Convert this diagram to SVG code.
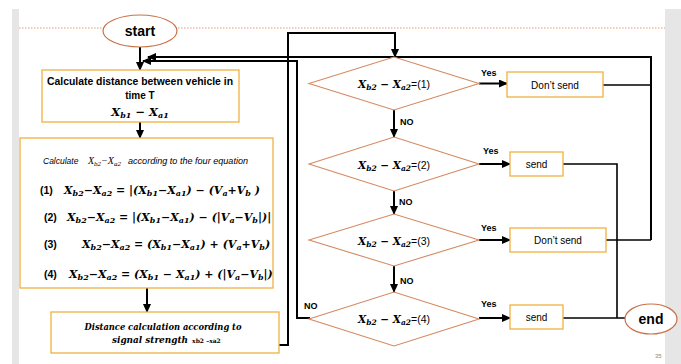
<svg xmlns="http://www.w3.org/2000/svg" width="681" height="364" viewBox="0 0 681 364">
<defs>
<marker id="ah" markerUnits="userSpaceOnUse" markerWidth="9" markerHeight="8" refX="8" refY="4" orient="auto">
<path d="M0,0 L9,4 L0,8 z" fill="#000"/>
</marker>
<style>
.bg{fill:#e6e6e6}
.oval{fill:#fff;stroke:#c8724a;stroke-width:1.2}
.box{fill:#fff;stroke:#f2b13f;stroke-width:1.3}
.dia{fill:#fff;stroke:#d6895f;stroke-width:1.1}
.c{fill:none;stroke:#000;stroke-width:2}
.thin{fill:none;stroke:#000;stroke-width:1.6}
.arr{marker-end:url(#ah)}
.sans{font-family:"Liberation Sans",Arial,sans-serif}
.bold{font-weight:bold}
.math{font-family:"DejaVu Serif","Liberation Serif",serif;font-weight:bold;font-style:italic}
.lbl{font-family:"Liberation Sans",Arial,sans-serif;font-weight:bold;font-size:9px}
</style>
</defs>
<rect width="681" height="364" fill="#fff"/>
<rect class="bg" x="12" y="9" width="7" height="355"/>
<rect class="bg" x="665" y="9" width="16" height="355"/>
<line x1="19" y1="28" x2="665" y2="28" stroke="#e39a78" stroke-width="1" stroke-dasharray="1.5,1.5"/>

<g id="connectors">
<line class="c arr" x1="140" y1="47" x2="140" y2="70"/>
<line class="c arr" x1="140" y1="122" x2="140" y2="138"/>
<line class="c arr" x1="147" y1="288" x2="147" y2="312"/>
<polyline class="c arr" points="279,345 288,345 288,33 395,33 395,57"/>
<line class="c arr" x1="394" y1="110" x2="394" y2="137"/>
<line class="c arr" x1="394" y1="191" x2="394" y2="214"/>
<line class="c arr" x1="394" y1="266" x2="394" y2="292"/>
<line class="c arr" x1="479" y1="83.5" x2="507" y2="83.5"/>
<line class="c arr" x1="479" y1="164" x2="510" y2="164"/>
<line class="c arr" x1="479" y1="240" x2="510" y2="240"/>
<line class="c arr" x1="479" y1="318" x2="510" y2="318"/>
<polyline class="c arr" points="310,318 297,318 297,61 143,61"/>
<line class="thin" x1="603" y1="85" x2="651" y2="85"/>
<line class="thin" x1="606" y1="240" x2="651" y2="240"/>
<polyline class="c arr" points="651,240 651,57 148,57"/>
<polyline class="thin" points="563,164 617,164 617,318"/>
<line class="thin" x1="563" y1="318" x2="625" y2="318"/>
<text class="lbl" x="481" y="76">Yes</text>
<text class="lbl" x="483" y="154">Yes</text>
<text class="lbl" x="481" y="231">Yes</text>
<text class="lbl" x="481" y="307">Yes</text>
<text class="lbl" x="400" y="125">NO</text>
<text class="lbl" x="399" y="205">NO</text>
<text class="lbl" x="400" y="284">NO</text>
<text class="lbl" x="304" y="309">NO</text>
</g>

<g id="start">
<ellipse class="oval" cx="140" cy="31" rx="37" ry="16"/>
<text class="sans bold" x="140" y="36" font-size="14" text-anchor="middle">start</text>
</g>

<g id="calc-distance">
<rect class="box" x="42" y="70" width="197" height="52"/>
<text class="sans bold" x="140" y="85" font-size="10" text-anchor="middle" textLength="186" lengthAdjust="spacingAndGlyphs">Calculate distance between vehicle in</text>
<text class="sans bold" x="140" y="99" font-size="10" text-anchor="middle">time T</text>
<text class="math" x="140" y="116" font-size="11.5" text-anchor="middle">X<tspan font-size="8" dy="2">b1</tspan><tspan dy="-2"> − X</tspan><tspan font-size="8" dy="2">a1</tspan></text>
</g>

<g id="equations">
<rect class="box" x="20" y="138" width="253" height="150"/>
<text x="43" y="164" font-size="8.5" font-family="Liberation Sans, Arial, sans-serif" font-style="italic">Calculate<tspan x="88" font-family="Liberation Serif, serif" font-size="10">X<tspan font-size="7" dy="1.5">b2</tspan><tspan dy="-1.5">−X</tspan><tspan font-size="7" dy="1.5">a2</tspan></tspan><tspan dy="-1.5" x="128" textLength="120" lengthAdjust="spacingAndGlyphs">according to  the four equation</tspan></text>
<text class="sans bold" x="40" y="194" font-size="10.5">(1)</text>
<text class="math" x="64" y="194" font-size="11">X<tspan font-size="8" dy="2">b2</tspan><tspan dy="-2">−X</tspan><tspan font-size="8" dy="2">a2</tspan><tspan dy="-2"> = |(X</tspan><tspan font-size="8" dy="2">b1</tspan><tspan dy="-2">−X</tspan><tspan font-size="8" dy="2">a1</tspan><tspan dy="-2">) − (V</tspan><tspan font-size="8" dy="2">a</tspan><tspan dy="-2">+V</tspan><tspan font-size="8" dy="2">b</tspan><tspan dy="-2"> )</tspan></text>
<text class="sans bold" x="44" y="221" font-size="10.5">(2)</text>
<text class="math" x="67" y="221" font-size="11">X<tspan font-size="8" dy="2">b2</tspan><tspan dy="-2">−X</tspan><tspan font-size="8" dy="2">a2</tspan><tspan dy="-2"> = |(X</tspan><tspan font-size="8" dy="2">b1</tspan><tspan dy="-2">−X</tspan><tspan font-size="8" dy="2">a1</tspan><tspan dy="-2">) − (|V</tspan><tspan font-size="8" dy="2">a</tspan><tspan dy="-2">−V</tspan><tspan font-size="8" dy="2">b</tspan><tspan dy="-2">|)|</tspan></text>
<text class="sans bold" x="44" y="248" font-size="10.5">(3)</text>
<text class="math" x="82" y="248" font-size="11">X<tspan font-size="8" dy="2">b2</tspan><tspan dy="-2">−X</tspan><tspan font-size="8" dy="2">a2</tspan><tspan dy="-2"> = (X</tspan><tspan font-size="8" dy="2">b1</tspan><tspan dy="-2">−X</tspan><tspan font-size="8" dy="2">a1</tspan><tspan dy="-2">) + (V</tspan><tspan font-size="8" dy="2">a</tspan><tspan dy="-2">+V</tspan><tspan font-size="8" dy="2">b</tspan><tspan dy="-2">)</tspan></text>
<text class="sans bold" x="44" y="278" font-size="10.5">(4)</text>
<text class="math" x="69" y="278" font-size="11">X<tspan font-size="8" dy="2">b2</tspan><tspan dy="-2">−X</tspan><tspan font-size="8" dy="2">a2</tspan><tspan dy="-2"> = (X</tspan><tspan font-size="8" dy="2">b1</tspan><tspan dy="-2"> − X</tspan><tspan font-size="8" dy="2">a1</tspan><tspan dy="-2">) + (|V</tspan><tspan font-size="8" dy="2">a</tspan><tspan dy="-2">−V</tspan><tspan font-size="8" dy="2">b</tspan><tspan dy="-2">|)</tspan></text>
</g>

<g id="signal-distance">
<rect class="box" x="51" y="312" width="228" height="41"/>
<text class="math" x="163" y="330" font-size="9" text-anchor="middle" textLength="157" lengthAdjust="spacingAndGlyphs">Distance calculation according to</text>
<text class="math" x="112" y="343" font-size="9"><tspan textLength="76" lengthAdjust="spacingAndGlyphs">signal strength</tspan><tspan font-style="normal" font-size="6" x="190"> xb2 –xa2</tspan></text>
</g>

<g id="decision1">
<polygon class="dia" points="309,83.5 394,57 479,83.5 394,110"/>
<text x="394" y="88" font-size="10.5" text-anchor="middle"><tspan class="math">X<tspan font-size="7.5" dy="2">b2</tspan><tspan dy="-2"> − X</tspan><tspan font-size="7.5" dy="2">a2</tspan></tspan><tspan class="sans" dy="-2">=(1)</tspan></text>
</g>
<g id="decision2">
<polygon class="dia" points="309,164 394,137 479,164 394,191"/>
<text x="394" y="168.5" font-size="10.5" text-anchor="middle"><tspan class="math">X<tspan font-size="7.5" dy="2">b2</tspan><tspan dy="-2"> − X</tspan><tspan font-size="7.5" dy="2">a2</tspan></tspan><tspan class="sans" dy="-2">=(2)</tspan></text>
</g>
<g id="decision3">
<polygon class="dia" points="309,240 394,214 479,240 394,266"/>
<text x="394" y="244.5" font-size="10.5" text-anchor="middle"><tspan class="math">X<tspan font-size="7.5" dy="2">b2</tspan><tspan dy="-2"> − X</tspan><tspan font-size="7.5" dy="2">a2</tspan></tspan><tspan class="sans" dy="-2">=(3)</tspan></text>
</g>
<g id="decision4">
<polygon class="dia" points="309,319 394,292 479,319 394,346"/>
<text x="394" y="323" font-size="10.5" text-anchor="middle"><tspan class="math">X<tspan font-size="7.5" dy="2">b2</tspan><tspan dy="-2"> − X</tspan><tspan font-size="7.5" dy="2">a2</tspan></tspan><tspan class="sans" dy="-2">=(4)</tspan></text>
</g>

<g id="dontsend1">
<rect class="box" x="507" y="72" width="96" height="25"/>
<text class="sans" x="555" y="88.5" font-size="10" text-anchor="middle">Don’t send</text>
</g>
<g id="send2">
<rect class="box" x="510" y="152" width="53" height="24"/>
<text class="sans" x="536.5" y="167.5" font-size="10" text-anchor="middle">send</text>
</g>
<g id="dontsend3">
<rect class="box" x="510" y="228" width="96" height="24"/>
<text class="sans" x="558" y="243.5" font-size="10" text-anchor="middle">Don’t send</text>
</g>
<g id="send4">
<rect class="box" x="510" y="305" width="53" height="24"/>
<text class="sans" x="536.5" y="320.5" font-size="10" text-anchor="middle">send</text>
</g>
<g id="end">
<ellipse class="oval" cx="651" cy="319" rx="26" ry="15"/>
<text class="sans bold" x="651" y="324" font-size="14" text-anchor="middle">end</text>
</g>
<text class="sans" x="655" y="358" font-size="6" fill="#888">35</text>
</svg>
